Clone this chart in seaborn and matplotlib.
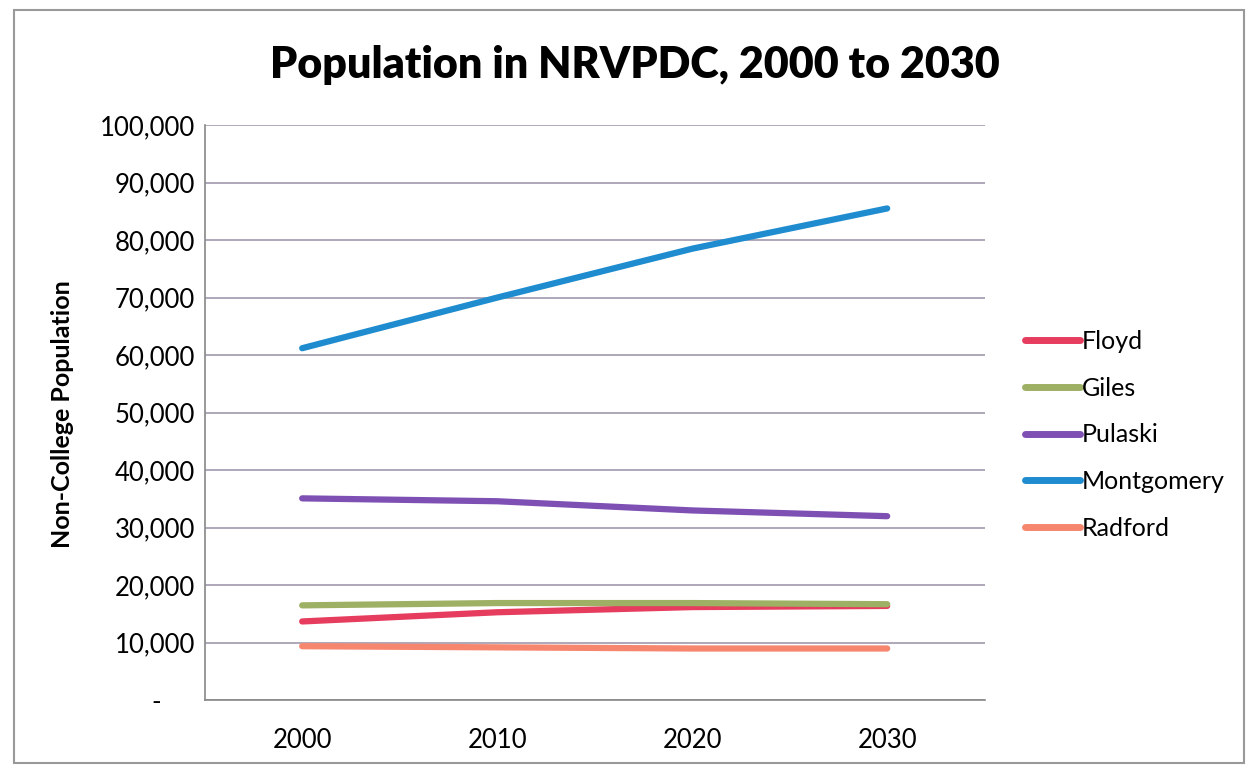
import matplotlib
matplotlib.use("Agg")
import matplotlib.pyplot as plt
import matplotlib.ticker as mticker
import seaborn as sns
import pandas as pd
from matplotlib.patches import Rectangle

years = ["2000", "2010", "2020", "2030"]
floyd = [13700, 15300, 16200, 16400]
giles = [16500, 16900, 16900, 16700]
pulaski = [35100, 34600, 33000, 32000]
montgomery = [61200, 70000, 78500, 85500]
radford = [9400, 9200, 9000, 9000]
names = ["Floyd", "Giles", "Pulaski", "Montgomery", "Radford"]
colors = ["#E63C5E", "#9DB064", "#7E50B4", "#1E8CCF", "#F7866E"]

series = [floyd, giles, pulaski, montgomery, radford]
rows = []
for n, vals in zip(names, series):
    for y, v in zip(years, vals):
        rows.append({"Year": y, "County": n, "Population": v})
df = pd.DataFrame(rows)

sns.set_theme(style="white")
plt.rcParams['font.family'] = ['Lato', 'DejaVu Sans']
plt.rcParams['text.color'] = 'black'

fig = plt.figure(figsize=(12.48, 7.67), dpi=100)
ax = fig.add_axes([0.164, 0.087, 0.625, 0.750])

sns.lineplot(data=df, x="Year", y="Population", hue="County", hue_order=names,
             palette=colors, linewidth=4.5, sort=False, ax=ax)

ax.set_xlim(-0.5, 3.5)
ax.set_ylim(0, 100000)
ax.set_yticks(range(0, 100001, 10000))
ax.yaxis.set_major_formatter(mticker.FuncFormatter(
    lambda v, p: "-     " if v == 0 else f"{int(v):,}"))
ax.grid(axis="y", color="#A198AC", linewidth=1.2)
ax.set_axisbelow(True)
for s in ["top", "right"]:
    ax.spines[s].set_visible(False)
for s in ["left", "bottom"]:
    ax.spines[s].set_color("#888888")
    ax.spines[s].set_linewidth(1.2)
ax.tick_params(axis="y", length=0, labelsize=18.5, pad=7, colors="black")
ax.tick_params(axis="x", length=0, labelsize=18.5, pad=20, colors="black")
ax.set_xlabel("")
ax.set_ylabel("")
fig.text(0.05, 0.46, "Non-College Population", rotation=90, fontsize=18,
         fontweight="bold", ha="center", va="center", color="black")
fig.text(0.509, 0.915, "Population in NRVPDC, 2000 to 2030", fontsize=31,
         fontweight="heavy", ha="center", va="center", color="black")

leg = ax.legend(loc="center left", bbox_to_anchor=(0.813, 0.433),
                bbox_transform=fig.transFigure, borderaxespad=0, frameon=False,
                fontsize=18, handlelength=2.2, handletextpad=0.1, labelspacing=0.95)
for line in leg.get_lines():
    line.set_linewidth(5)

fig.patches.append(Rectangle((0.011, 0.005), 0.986, 0.982, transform=fig.transFigure,
                             fill=False, edgecolor="#999999", linewidth=1.5))

fig.savefig("out.png", dpi=100)
